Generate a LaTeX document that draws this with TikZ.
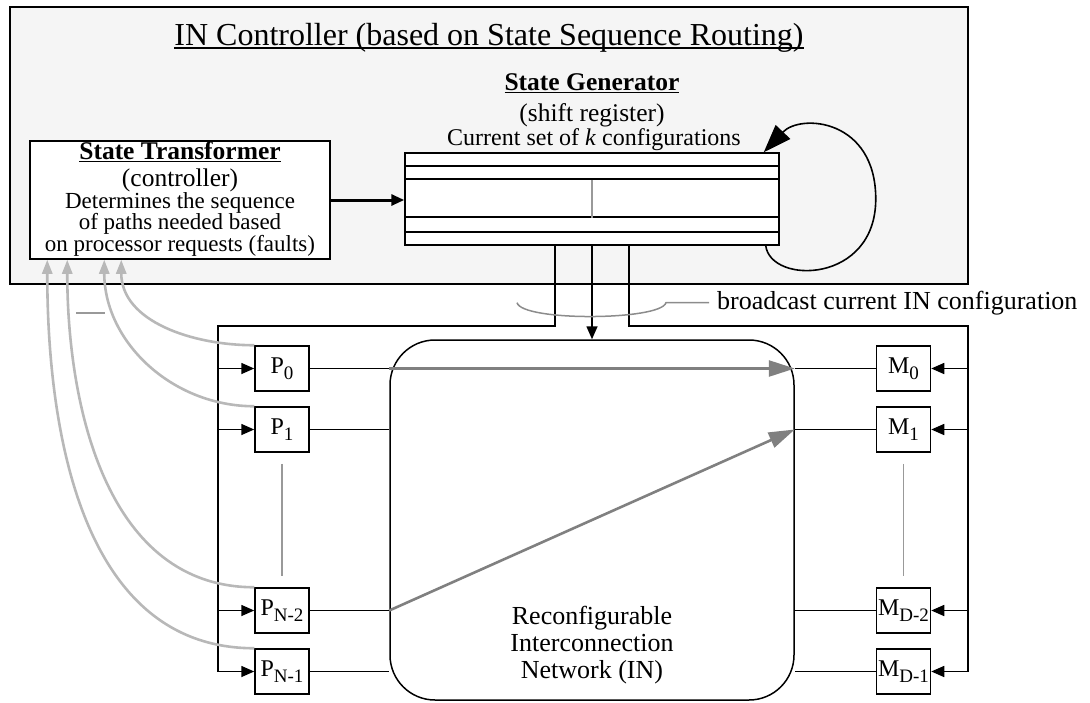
\documentclass[tikz,border=0pt]{standalone}
\usepackage{fontspec}
\setmainfont{Liberation Serif}
\usetikzlibrary{arrows.meta,calc}
\tikzset{
  ctrlbox/.style={draw,line width=1.5pt,fill=black!4,inner sep=0pt},
  unitbox/.style={draw,line width=1.5pt,fill=white,inner sep=0pt},
  pmbox/.style={unitbox,minimum width=54pt,minimum height=45pt,font=\fontsize{24}{24}\selectfont},
  hdtext/.style={anchor=base,inner sep=0pt,font=\fontsize{25.5}{26}\selectfont},
  dtext/.style={anchor=base,inner sep=0pt,font=\fontsize{23}{24}\selectfont},
  wire/.style={line width=1.6pt},
  feed/.style={wire,-{Triangle[length=13pt,width=11pt]}},
  route/.style={line width=2.6pt,black!50,-{Triangle[length=26pt,width=16pt]}},
  request/.style={line width=2.6pt,black!28,-{Triangle[length=14pt,width=10pt]}},
  elide/.style={line width=1.4pt,black!40},
  bline/.style={line width=1.5pt,black!45},
}
% underline sitting just under the baseline
\newcommand{\uln}[1]{\setbox0\hbox{#1}\rlap{\rule[-0.13em]{\wd0}{0.06em}}\box0}
% lowered index for the P and M boxes
\newcommand{\sbs}[1]{\raisebox{-0.26em}{\fontsize{19}{19}\selectfont #1}}

\begin{document}
\begin{tikzpicture}[x=1pt,y=-1pt]
\useasboundingbox (0,0) rectangle (1090,702);
% ---- controller frame
\node[ctrlbox,minimum width=958pt,minimum height=277pt] (ctrl) at (489,145.5) {};
\node[hdtext,font=\fontsize{32}{32}\selectfont] (title) at (489,45)
  {\uln{IN Controller (based on State Sequence Routing)}};
% ---- state transformer
\node[unitbox,minimum width=300pt,minimum height=118pt] (stt) at (180,200) {};
\node[hdtext] (stt-a) at (180,159) {\uln{\textbf{State Transformer}}};
\node[hdtext] (stt-b) at (180,186) {(controller)};
\node[dtext] (stt-c) at (180,208) {Determines the sequence};
\node[dtext] (stt-d) at (180,229.5) {of paths needed based};
\node[dtext] (stt-e) at (180,251) {on processor requests (faults)};
% ---- state generator (shift register)
\node[hdtext] (sg-a) at (592,90) {\uln{\textbf{State Generator}}};
\node[hdtext] (sg-b) at (592,121) {(shift register)};
\node[dtext,font=\fontsize{24}{24}\selectfont] (sg-c) at (594,145) {Current set of \textit{k} configurations};
\node[unitbox,minimum width=374pt,minimum height=92pt] (sreg) at (592,199) {};
\foreach \dy in {14,27,65,80}
  \draw[wire] ([yshift=-\dy pt]sreg.north west) -- ([yshift=-\dy pt]sreg.north east);
\draw[elide] ([yshift=19pt]sreg.center) -- ([yshift=-19pt]sreg.center);
\draw[wire,line width=3pt,-{Triangle[length=13pt,width=11pt]}] (stt.east) -- (stt.east -| sreg.west);
% shift loop
\draw[wire,-{Triangle[length=28pt,width=20pt]}] ([xshift=-14pt]sreg.south east)
  .. controls +(5,39) and +(0,85) .. ([xshift=96pt]sreg.east)
  .. controls +(0,-80) and +(37,-39) .. ([xshift=-16pt]sreg.north east);
% ---- interconnection network
\node[unitbox,rounded corners=45pt,minimum width=404pt,minimum height=360pt] (net) at (592,520) {};
\node[align=center,inner sep=0pt,font=\fontsize{26}{27}\selectfont] (net-txt) at (592,645)
  {Reconfigurable\\Interconnection\\Network (IN)};
% ---- processors and memories
\node[pmbox] (p0) at (282,368.5) {P\sbs{0}};
\node[pmbox] (p1) at (282,429.5) {P\sbs{1}};
\node[pmbox] (pn2) at (282,610.5) {P\sbs{N-2}};
\node[pmbox] (pn1) at (282,671.5) {P\sbs{N-1}};
\node[pmbox] (m0) at (903.5,368.5) {M\sbs{0}};
\node[pmbox] (m1) at (903.5,429.5) {M\sbs{1}};
\node[pmbox] (md2) at (903.5,610.5) {M\sbs{D-2}};
\node[pmbox] (md1) at (903.5,671.5) {M\sbs{D-1}};
\draw[elide] ([yshift=-11pt]p1.south) -- ([yshift=11pt]pn2.north);
\draw[elide] ([yshift=-11pt]m1.south) -- ([yshift=11pt]md2.north);
% ---- broadcast taps
\coordinate (fl) at (218,326);
\coordinate (fr) at (968,326);
\draw[wire] ([xshift=-37pt]sreg.south) |- (fl) -- (fl |- pn1);
\draw[wire] ([xshift=37pt]sreg.south) |- (fr) -- (fr |- md1);
\draw[feed] (sreg.south) -- (net.north);
\foreach \n in {p0,p1,pn2,pn1}{
  \draw[feed] (fl |- \n.west) -- (\n.west);
  \draw[wire] (\n.east) -- (\n.east -| net.west);}
\foreach \n in {m0,m1,md2,md1}{
  \draw[feed] (fr |- \n.east) -- (\n.east);
  \draw[wire] (\n.west) -- (\n.west -| net.east);}
\node[dtext,font=\fontsize{26}{26}\selectfont,anchor=base west] (bcast) at (717,309)
  {broadcast current IN configuration};
\draw[bline] ([xshift=-8pt]bcast.west) -- ++(-43,0)
  .. controls +(-5,18) and +(5,19) .. ++(-149,0);
% ---- paths set up through the network
\draw[route] (p0.east -| net.west) -- (m0.west -| net.east);
\draw[route] (pn2.east -| net.west) -- (m1.west -| net.east);
% ---- processor requests back to the transformer
\draw[request] (p0.north west) to[out=180,in=-90] ([xshift=92pt]stt.south west);
\draw[request] (p1.north west) to[out=180,in=-90] ([xshift=75pt]stt.south west);
\draw[request] (pn2.north west) to[out=180,in=-90] ([xshift=38pt]stt.south west);
\draw[request] (pn1.north west) to[out=180,in=-90] ([xshift=18pt]stt.south west);
\draw[elide] (76,313) -- (105,313);
\end{tikzpicture}
\end{document}
